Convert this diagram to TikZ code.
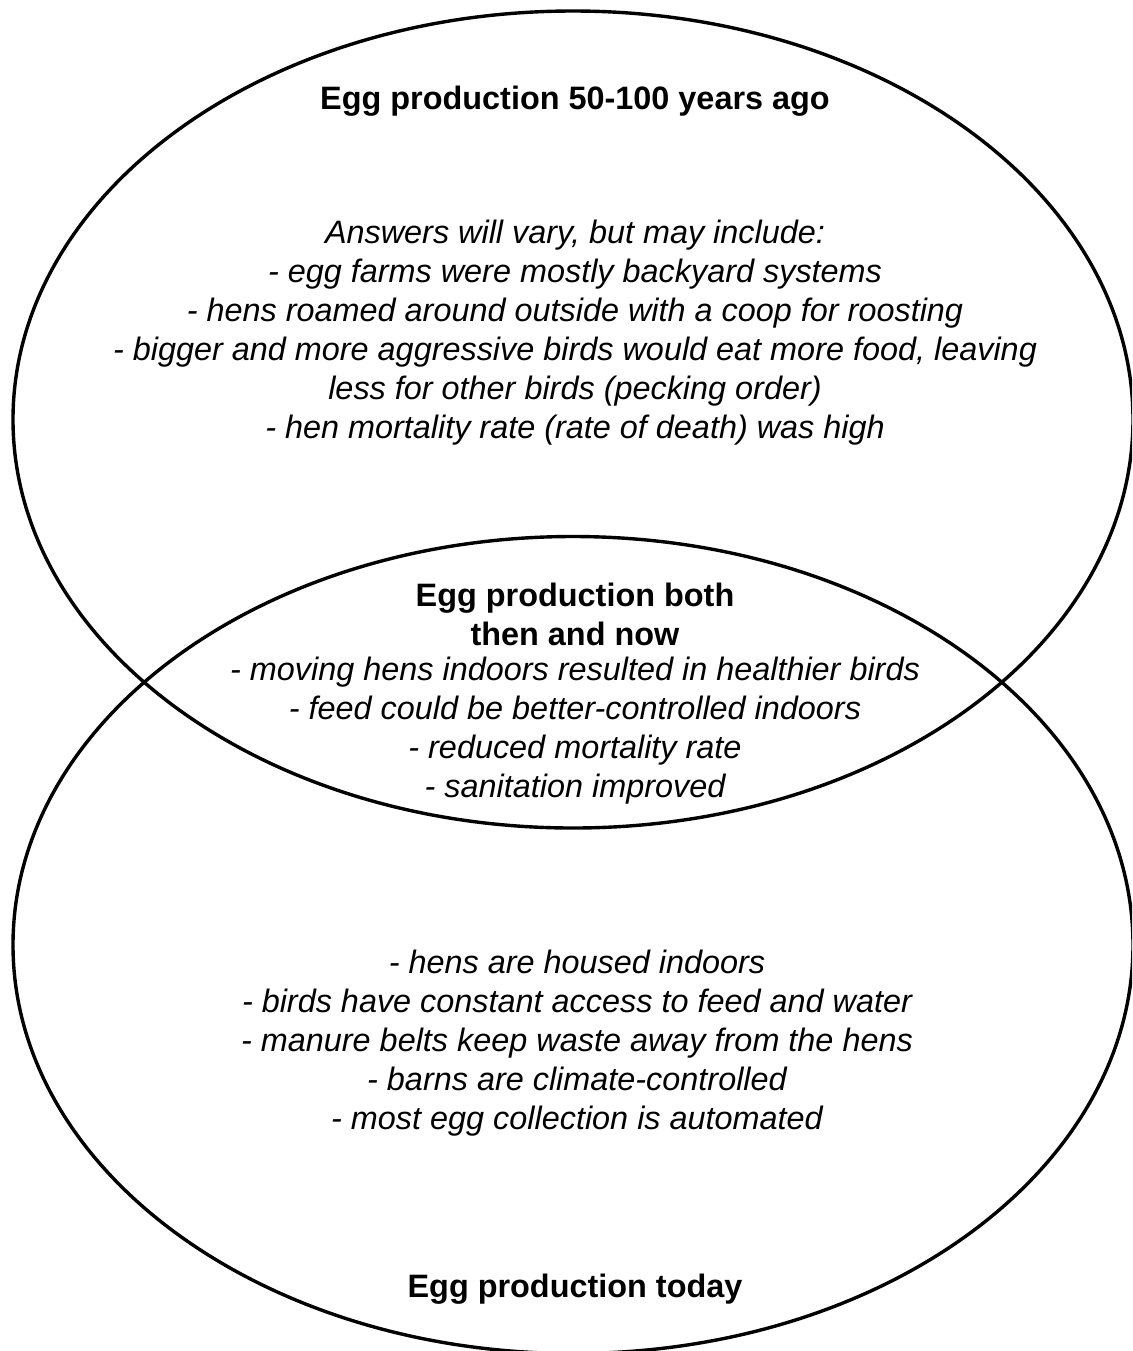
\documentclass[tikz,border=0pt]{standalone}
\usepackage{fontspec}
\setmainfont{Liberation Sans}
\begin{document}
\begin{tikzpicture}[x=0.5pt,y=-0.5pt,
  venn/.style={draw=black,line width=1.7pt},
  heading/.style={font=\fontsize{16.2}{19.5}\selectfont\bfseries,align=center,inner sep=0pt},
  body/.style={font=\fontsize{16.2}{19.5}\selectfont\itshape,align=center,inner sep=0pt}]
\useasboundingbox (0,0) rectangle (1132,1351);
\clip (0,0) rectangle (1132,1351);
\fill[white] (0,0) rectangle (1132,1351);
\coordinate (ctop) at (573,419.5);
\coordinate (cbot) at (573,945);
\draw[venn] (ctop) ellipse [x radius=560, y radius=408.5];
\draw[venn] (cbot) ellipse [x radius=560, y radius=408.5];
\node[heading] (t1) at (575,101) {Egg production 50-100 years ago};
\node[body] (b1) at (575,333) {Answers will vary, but may include:\\
- egg farms were mostly backyard systems\\
- hens roamed around outside with a coop for roosting\\
- bigger and more aggressive birds would eat more food, leaving\\
less for other birds (pecking order)\\
- hen mortality rate (rate of death) was high};
\node[heading] (t2) at (575,614) {Egg production both\\then and now};
\node[body] (b2) at (575,731) {- moving hens indoors resulted in healthier birds\\
- feed could be better-controlled indoors\\
- reduced mortality rate\\
- sanitation improved};
\node[body] (b3) at (577,1043) {- hens are housed indoors\\
- birds have constant access to feed and water\\
- manure belts keep waste away from the hens\\
- barns are climate-controlled\\
- most egg collection is automated};
\node[heading] (t3) at (575,1289) {Egg production today};
\end{tikzpicture}
\end{document}
